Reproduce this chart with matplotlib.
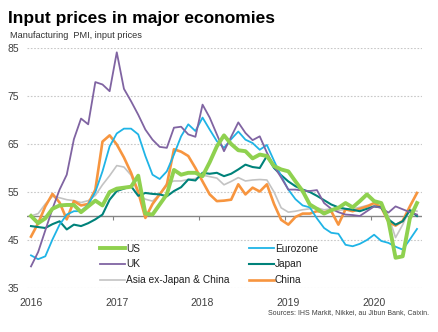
import numpy as np
import pandas as pd
import matplotlib
matplotlib.use("Agg")
import matplotlib.pyplot as plt

plt.rcParams["font.family"] = ["Liberation Sans", "DejaVu Sans"]

# ========================
# data
# ========================
months = pd.date_range("2016-01-01", "2020-07-01", freq="MS")

us = [50, 48.5, 49.5, 51.5, 52.2, 52.3, 52.3, 50.8, 52, 53.2,
      52.2, 55, 55.7, 55.9, 56.1, 58.4, 50.5, 50.3, 52.4, 54.5,
      59.6, 58.6, 59, 59, 58.3, 61.2, 64.5, 66.8, 65, 63.7,
      63.5, 62, 62.8, 62.5, 60.4, 59.7, 59.3, 57.2, 55.2, 52.4,
      51.5, 50.5, 51.2, 51.7, 52.7, 51.8, 53.1, 54.5, 53.1, 52.7,
      49, 41.3, 41.6, 49.5, 52.7]
uk = [39.5, 42.5, 47, 51.5, 55.5, 58.6, 66, 70.3, 69.1, 77.9,
      77.4, 76, 84.1, 76.5, 73.9, 71.1, 68, 65.9, 64.4, 64.2,
      68.4, 68.6, 67, 66.5, 73.2, 70.5, 67, 63.5, 66.5, 69.5,
      67.3, 65.8, 66.6, 63.2, 60.4, 58, 55.5, 55.5, 55.3, 55.2,
      55.4, 52.7, 51.5, 50.8, 50.3, 50.2, 50, 51, 52, 51.7,
      50.7, 52, 51.4, 50.8, 50.3]
asia = [50, 50.5, 52.5, 54.1, 53.8, 53.4, 53.2, 52.8, 53.2, 54.3,
        56.5, 58.4, 60.5, 60.2, 58.5, 54.5, 53.5, 53.1, 54.5, 56.8,
        57.3, 57.3, 57.6, 57.8, 58.5, 58.2, 57.9, 56.5, 57.2, 58,
        57.3, 57.5, 57.6, 57.5, 55, 51.7, 50.8, 51, 51.3, 51.5,
        51.7, 51.3, 51.5, 51.2, 51.3, 51.5, 51.8, 52.2, 52, 51.8,
        50, 45.5, 48.2, 51.4, 51]
eurozone = [41.8, 41, 41.6, 45.1, 48.2, 50.3, 51, 51, 52.4, 55,
            59.3, 64.5, 67.2, 68.2, 68.2, 67, 62.5, 58.6, 57.7, 59.3,
            62.8, 66.6, 69.1, 67.7, 70.5, 68, 65.6, 64.2, 66, 67.6,
            65.9, 65.2, 63.8, 64.8, 61.5, 58.3, 55.5, 53.5, 52.2, 51.8,
            49.5, 47.5, 46.5, 46.3, 44, 43.7, 44.2, 45, 46.1, 44.8,
            44.4, 43.6, 43, 45.1, 47.3]
japan = [47.9, 47.7, 47.5, 48.3, 48.9, 47.2, 48.2, 47.9, 48.5, 49.3,
         50.3, 53.4, 55.2, 55.7, 56.2, 54.2, 54.8, 54.6, 54.5, 54.1,
         55.2, 56, 57.6, 57.4, 59, 58.8, 59, 58.3, 58.8, 59.7,
         60.7, 60.2, 60, 62.5, 60, 58.5, 57.2, 56.2, 55.5, 55,
         54.2, 53.3, 52.4, 51.8, 51.5, 51.3, 51, 51.5, 52, 51.8,
         49.3, 48.2, 48.9, 51.2, 50]
china = [45.7, 48.5, 52, 54.6, 52.8, 49.3, 53.1, 52.2, 52.5, 55.5,
         65.5, 66.8, 64.9, 62.2, 59, 55, 49.6, 52.5, 54.5, 56.5,
         63.9, 63.4, 62.5, 60, 57.2, 54.5, 53.1, 53.2, 53.4, 56.6,
         54.5, 55.9, 55.1, 56.6, 52.5, 49.2, 48.2, 49.8, 50.5, 50.5,
         51, 50.8, 51, 48.2, 51.4, 51, 51.5, 52, 52.7, 51.8,
         48.8, 48, 49, 52, 54.8]

y_ticks = [35, 45, 55, 65, 75, 85]

# ========================
# figure
# ========================
fig = plt.figure(figsize=(4.39, 3.32), dpi=100)
ax = fig.add_axes([27 / 439, 1 - 288 / 332, 395 / 439, 240 / 332])

x = np.arange(len(months))
year_pos = x[months.month == 1]

# grid + 50 line
for yv in y_ticks:
    ax.axhline(yv, color="#c8c8c8", lw=0.8, ls=(0, (1.5, 1.5)), zorder=0)
ax.axhline(50, color="#858585", lw=1.0, zorder=1)
ax.plot(year_pos[1:] - 0.5, np.full(len(year_pos) - 1, 50), ls="none",
        marker=3, ms=3, mew=0.8, color="#858585", zorder=1)

l_asia, = ax.plot(x, asia, color="#c3c3c3", lw=1.2, label="Asia ex-Japan & China", zorder=2)
l_china, = ax.plot(x, china, color="#f7953f", lw=1.9, label="China", zorder=3)
l_japan, = ax.plot(x, japan, color="#00827a", lw=1.5, label="Japan", zorder=4)
l_ez, = ax.plot(x, eurozone, color="#1fb4e6", lw=1.3, label="Eurozone", zorder=4)
l_uk, = ax.plot(x, uk, color="#8064a2", lw=1.3, label="UK", zorder=5)
l_us, = ax.plot(x, us, color="#8fd14f", lw=2.8, label="US", zorder=6)

ax.set_xlim(-0.56, 54.7)
ax.set_ylim(35, 85)
ax.set_yticks(y_ticks)
ax.set_xticks(year_pos)
ax.set_xticklabels([str(d.year) for d in months[year_pos]])
ax.tick_params(axis="both", length=0, labelsize=7.5, colors="#404040")
ax.tick_params(axis="y", pad=5.5)
ax.tick_params(axis="x", pad=7)
for s in ax.spines.values():
    s.set_visible(False)

leg = ax.legend(handles=[l_us, l_uk, l_asia, l_ez, l_japan, l_china],
                ncol=2, frameon=False, fontsize=7.3, loc="upper left",
                bbox_to_anchor=(100 / 439, 1 - 243.5 / 332),
                bbox_transform=fig.transFigure,
                handlelength=2.5, handletextpad=0.05, labelspacing=0.58,
                columnspacing=1.95, borderaxespad=0, borderpad=0)
for t in leg.get_texts():
    t.set_color("#202020")

fig.text(8 / 439, 1 - 18 / 332, "Input prices in major economies",
         fontsize=12.5, fontweight="bold", va="center", ha="left", color="black")
fig.text(10 / 439, 1 - 36 / 332, "Manufacturing  PMI, input prices",
         fontsize=6.6, va="center", ha="left", color="#303030")
fig.text(429 / 439, 1 - 313 / 332, "Sources: IHS Markit, Nikkei, au Jibun Bank, Caixin.",
         fontsize=5.0, va="center", ha="right", color="#404040")

fig.savefig("out.png", dpi=100)
